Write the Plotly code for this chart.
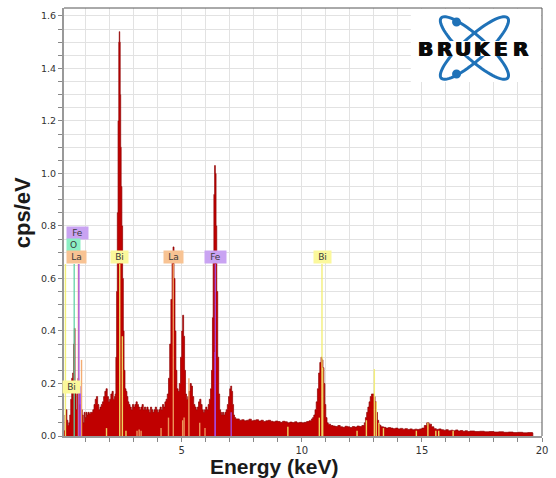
import math
import plotly.graph_objects as go

# ---------------- spectrum data ----------------
energy_kev = [
    # low-energy cluster (Bi N, O K, Fe L, La M)
    0.10, 0.14, 0.18, 0.22, 0.26, 0.30, 0.34, 0.38, 0.42, 0.46,
    0.50, 0.53, 0.56, 0.60, 0.64, 0.68, 0.71, 0.74, 0.78, 0.82,
    0.86, 0.90, 0.94, 0.98, 1.02, 1.06, 1.10, 1.15, 1.20,
    # 1.25 - 2.20
    1.25, 1.30, 1.35, 1.40, 1.45, 1.50, 1.55, 1.60, 1.65, 1.70,
    1.75, 1.80, 1.85, 1.90, 1.95, 2.00, 2.05, 2.10, 2.15, 2.20,
    # Bi M peak
    2.23, 2.26, 2.29, 2.32, 2.35, 2.38, 2.40, 2.42, 2.44, 2.46,
    2.48, 2.51, 2.54, 2.57, 2.60, 2.64, 2.68, 2.72,
    # 2.76 - 4.35
    2.76, 2.80, 2.85, 2.90, 2.95, 3.00, 3.05, 3.10, 3.15, 3.20,
    3.25, 3.30, 3.35, 3.40, 3.45, 3.50, 3.55, 3.60, 3.65, 3.70,
    3.75, 3.80, 3.85, 3.90, 3.95, 4.00, 4.05, 4.10, 4.15, 4.20,
    4.25, 4.30, 4.35,
    # La L peaks
    4.40, 4.45, 4.50, 4.55, 4.60, 4.64, 4.68, 4.72, 4.76, 4.80,
    4.85, 4.90, 4.95, 5.00, 5.04, 5.08, 5.12, 5.16, 5.20, 5.25,
    5.30, 5.35, 5.40, 5.45, 5.50, 5.55, 5.60, 5.65, 5.70, 5.75,
    5.80, 5.85, 5.90, 5.95, 6.00, 6.05, 6.10, 6.15, 6.20,
    # Fe K peaks
    6.24, 6.28, 6.31, 6.34, 6.37, 6.40, 6.43, 6.46, 6.50, 6.54,
    6.58, 6.62, 6.66, 6.70, 6.75, 6.80, 6.85, 6.90, 6.95, 7.00,
    7.04, 7.08, 7.12, 7.16, 7.20, 7.25,
    # 7.3 - 10.4
    7.3, 7.4, 7.5, 7.6, 7.7, 7.8, 7.9, 8.0, 8.1, 8.2,
    8.3, 8.4, 8.5, 8.6, 8.7, 8.8, 8.9, 9.0, 9.1, 9.2,
    9.3, 9.4, 9.5, 9.6, 9.7, 9.8, 9.9, 10.0, 10.1, 10.2,
    10.3, 10.4,
    # Bi L-alpha
    10.45, 10.50, 10.55, 10.60, 10.65, 10.70, 10.75, 10.80, 10.84, 10.88,
    10.92, 10.96, 11.00, 11.05, 11.10,
    # 11.2 - 12.65
    11.2, 11.3, 11.4, 11.5, 11.6, 11.7, 11.8, 11.9, 12.0, 12.1,
    12.2, 12.3, 12.4, 12.5, 12.6, 12.65,
    # Bi L-beta
    12.70, 12.75, 12.80, 12.85, 12.90, 12.95, 13.00, 13.05, 13.10, 13.15,
    13.20, 13.25,
    # tail
    13.3, 13.4, 13.5, 13.6, 13.7, 13.8, 13.9, 14.0, 14.1, 14.2,
    14.3, 14.4, 14.5, 14.6, 14.7, 14.8, 14.9, 15.0, 15.1, 15.2,
    15.3, 15.4, 15.5, 15.6, 15.7, 15.8, 15.9, 16.0, 16.1, 16.2,
    16.3, 16.4, 16.5, 16.6, 16.7, 16.8, 16.9, 17.0,
    17.2, 17.4, 17.6, 17.8, 18.0, 18.2, 18.4, 18.6, 18.8, 19.0,
    19.2, 19.4, 19.6, 19.62,
]
cps_per_ev = [
    0.02, 0.08, 0.10, 0.06, 0.04, 0.05, 0.08, 0.14, 0.22, 0.24,
    0.35, 0.41, 0.20, 0.10, 0.16, 0.22, 0.20, 0.12, 0.06, 0.10,
    0.08, 0.05, 0.09, 0.07, 0.09, 0.08, 0.09, 0.085, 0.09,
    0.09, 0.10, 0.12, 0.14, 0.15, 0.12, 0.10, 0.11, 0.12, 0.13,
    0.15, 0.17, 0.18, 0.15, 0.13, 0.14, 0.16, 0.17, 0.14, 0.15,
    0.16, 0.30, 0.55, 0.85, 1.20, 1.50, 1.54, 1.50, 1.30, 1.10,
    0.95, 0.80, 0.60, 0.40, 0.25, 0.18, 0.17, 0.15,
    0.13, 0.12, 0.11, 0.10, 0.12, 0.11, 0.12, 0.13, 0.12, 0.11,
    0.10, 0.11, 0.12, 0.10, 0.11, 0.10, 0.11, 0.10, 0.09, 0.11,
    0.10, 0.09, 0.10, 0.11, 0.10, 0.09, 0.10, 0.11, 0.10, 0.12,
    0.11, 0.13, 0.14,
    0.16, 0.22, 0.35, 0.52, 0.68, 0.72, 0.60, 0.40, 0.25, 0.18,
    0.17, 0.20, 0.30, 0.40, 0.46, 0.38, 0.25, 0.16, 0.14, 0.15,
    0.17, 0.20, 0.19, 0.15, 0.12, 0.11, 0.10, 0.11, 0.13, 0.14,
    0.12, 0.10, 0.09, 0.10, 0.11, 0.10, 0.12, 0.14, 0.18,
    0.25, 0.45, 0.70, 0.92, 1.03, 1.00, 0.80, 0.55, 0.30, 0.16,
    0.10, 0.09, 0.08, 0.09, 0.08, 0.09, 0.10, 0.12, 0.15, 0.18,
    0.19, 0.17, 0.12, 0.08, 0.07, 0.065,
    0.065, 0.060, 0.062, 0.058, 0.060, 0.064, 0.058, 0.060, 0.062, 0.057,
    0.060, 0.055, 0.058, 0.060, 0.056, 0.054, 0.057, 0.055, 0.052, 0.056,
    0.054, 0.050, 0.053, 0.051, 0.054, 0.050, 0.052, 0.050, 0.052, 0.055,
    0.058, 0.065,
    0.07, 0.08, 0.10, 0.13, 0.18, 0.24, 0.28, 0.30, 0.29, 0.26,
    0.20, 0.12, 0.07, 0.05, 0.045,
    0.040, 0.038, 0.036, 0.040, 0.035, 0.033, 0.037, 0.035, 0.032, 0.036,
    0.034, 0.038, 0.036, 0.040, 0.050, 0.070,
    0.09, 0.11, 0.13, 0.15, 0.16, 0.16, 0.15, 0.13, 0.09, 0.06,
    0.045, 0.04,
    0.035, 0.033, 0.030, 0.032, 0.030, 0.028, 0.030, 0.027, 0.029, 0.026,
    0.028, 0.025, 0.027, 0.024, 0.026, 0.025, 0.027, 0.030, 0.040, 0.050,
    0.045, 0.035, 0.028, 0.025, 0.027, 0.024, 0.022, 0.024, 0.020, 0.022,
    0.020, 0.023, 0.019, 0.021, 0.018, 0.020, 0.017, 0.019,
    0.017, 0.018, 0.016, 0.017, 0.015, 0.016, 0.014, 0.015, 0.013, 0.014,
    0.012, 0.013, 0.012, 0.0,
]
assert len(energy_kev) == len(cps_per_ev), (len(energy_kev), len(cps_per_ev))

# ---------------- element marker lines ----------------
line_energy = [0.16, 0.525, 0.70, 0.72, 0.83, 0.78, 2.42, 2.53, 1.87, 2.68,
               3.14, 3.23, 3.31, 4.14, 4.65, 4.45, 5.04, 5.10, 5.30, 5.75,
               5.97, 6.40, 6.39, 7.06, 9.42, 10.73, 10.84, 10.87, 12.30, 12.69,
               13.02, 13.10, 13.21, 13.40, 14.77, 15.25, 15.58, 15.70, 16.30]
line_height = [0.655, 0.655, 0.655, 0.655, 0.29, 0.19, 0.655, 0.38, 0.03, 0.02,
               0.02, 0.025, 0.02, 0.03, 0.655, 0.07, 0.06, 0.07, 0.22, 0.05,
               0.03, 0.655, 0.32, 0.09, 0.035, 0.07, 0.655, 0.26, 0.02, 0.06,
               0.255, 0.13, 0.05, 0.03, 0.02, 0.05, 0.02, 0.02, 0.02]
line_element = ["Bi", "O", "La", "Fe", "La", "Fe", "Bi", "Bi", "Bi", "Bi",
                "La", "La", "La", "La", "La", "La", "La", "La", "La", "La",
                "La", "Fe", "Fe", "Fe", "Bi", "Bi", "Bi", "Bi", "Bi", "Bi",
                "Bi", "Bi", "Bi", "Bi", "Bi", "Bi", "Bi", "Bi", "Bi"]
assert len(line_energy) == len(line_height) == len(line_element)

# ---------------- element labels ----------------
label_text = ["Fe", "O", "La", "Bi", "La", "Fe", "Bi", "Bi"]
label_energy = [0.68, 0.49, 0.62, 2.43, 4.66, 6.41, 10.86, 0.41]
label_level = [0.773, 0.726, 0.68, 0.68, 0.68, 0.68, 0.68, 0.187]

# ---------------- styles ----------------
line_color = {"Bi": "#f3ee6c", "La": "#f2a463", "Fe": "#a54ef0", "O": "#5fd3a4"}
label_bg = {"Bi": "#fbf89c", "La": "#f8c393", "Fe": "#c9a3f2", "O": "#8cefc4"}
label_w = {"Bi": 15, "La": 17, "Fe": 19, "O": 11}

W, H = 556, 478
ML, MR, MT, MB = 64, 11, 8, 42
PW, PH = W - ML - MR, H - MT - MB


def px(xp, yp):
    """pixel position -> paper coordinates"""
    return (xp - ML) / PW, (H - MB - yp) / PH


fig = go.Figure()
fig.add_trace(go.Scatter(
    x=energy_kev, y=cps_per_ev, mode="lines", line_shape="hv",
    fill="tozeroy", fillcolor="#c00000",
    line=dict(color="#8e0000", width=0.7),
    hoverinfo="skip", showlegend=False,
))

for el in ["La", "Bi", "O", "Fe"]:
    xs, ys = [], []
    for e, h, l in zip(line_energy, line_height, line_element):
        if l == el:
            xs += [e, e, None]
            ys += [0, h, None]
    fig.add_trace(go.Scatter(
        x=xs, y=ys, mode="lines", opacity=0.9,
        line=dict(color=line_color[el], width=1.4),
        hoverinfo="skip", showlegend=False,
    ))

for t, e, lv in zip(label_text, label_energy, label_level):
    fig.add_annotation(
        x=e, y=lv, xref="x", yref="y", text=t, showarrow=False,
        xanchor="center", yanchor="middle",
        font=dict(family="DejaVu Sans", size=9, color="#3a3a3a"),
        bgcolor=label_bg[t], borderpad=1, width=label_w[t], height=10,
    )

# axis titles
fig.add_annotation(x=px(275, 0)[0], y=px(0, 466)[1], xref="paper", yref="paper",
                   xanchor="center", yanchor="middle",
                   text="<b>Energy (keV)</b>", showarrow=False,
                   font=dict(family="Liberation Sans", size=21, color="#1a1a1a"))
fig.add_annotation(x=px(22, 0)[0], y=px(0, 213)[1], xref="paper", yref="paper",
                   xanchor="center", yanchor="middle",
                   text="<b>cps/eV</b>", showarrow=False, textangle=-90,
                   font=dict(family="Liberation Sans", size=22, color="#1a1a1a"))

shapes = []
# logo background
x0, y0 = px(413, 82)
shapes.append(dict(type="rect", xref="paper", yref="paper", x0=x0, y0=y0,
                   x1=0.998, y1=0.998, fillcolor="white", line_width=0, layer="above"))
# logo orbits
cx, cy, a, b = 477, 48, 45, 11.5
for ang in (42, -42):
    th = math.radians(ang)
    pts = []
    for k in range(73):
        t = 2 * math.pi * k / 72
        xp = cx + a * math.cos(t) * math.cos(th) - b * math.sin(t) * math.sin(th)
        yp = cy + a * math.cos(t) * math.sin(th) + b * math.sin(t) * math.cos(th)
        pts.append(px(xp, yp))
    path = "M " + " L ".join(f"{p[0]:.5f},{p[1]:.5f}" for p in pts) + " Z"
    shapes.append(dict(type="path", xref="paper", yref="paper", path=path,
                       line=dict(color="#1f72b8", width=3), layer="above"))
for (dx, dy) in [(459, 22), (459, 74)]:
    ax0, ay0 = px(dx - 4.5, dy + 4.5)
    ax1, ay1 = px(dx + 4.5, dy - 4.5)
    shapes.append(dict(type="circle", xref="paper", yref="paper", x0=ax0, y0=ay0,
                       x1=ax1, y1=ay1, fillcolor="#1f72b8", line_width=0, layer="above"))
# white band behind the logo text
bx0, by0 = px(419, 56)
bx1, by1 = px(533, 41)
shapes.append(dict(type="rect", xref="paper", yref="paper", x0=bx0, y0=by0,
                   x1=bx1, y1=by1, fillcolor="white", line_width=0, layer="above"))
# top and right frame
shapes.append(dict(type="line", xref="paper", yref="paper", x0=0, x1=1, y0=1, y1=1,
                   line=dict(color="#555555", width=1), layer="above"))
shapes.append(dict(type="line", xref="paper", yref="paper", x0=1, x1=1, y0=0, y1=1,
                   line=dict(color="#555555", width=1), layer="above"))

for ch, xc in zip("BRUKER", [428, 447, 466, 485, 504, 523]):
    fx, fy = px(xc, 49)
    fig.add_annotation(x=fx, y=fy, xref="paper", yref="paper", text=f"<b>{ch}</b>",
                       xanchor="center", yanchor="middle", showarrow=False,
                       font=dict(family="DejaVu Sans", size=20, color="#0a0a0a",
                                 shadow="0.7px 0 0 #0a0a0a, -0.7px 0 0 #0a0a0a"))

grid = "#e2e2e2"
fig.update_layout(
    width=W, height=H, margin=dict(l=ML, r=MR, t=MT, b=MB),
    paper_bgcolor="white", plot_bgcolor="white", shapes=shapes,
    xaxis=dict(range=[0.1, 20], tick0=0, dtick=5, ticks="outside", ticklen=4,
               tickcolor="#888888", showgrid=True, gridcolor=grid, gridwidth=1,
               showline=True, linecolor="#999999", linewidth=2, zeroline=False,
               tickfont=dict(family="DejaVu Sans", size=10, color="#333333"),
               minor=dict(dtick=1, ticks="outside", ticklen=4, tickcolor="#888888",
                          showgrid=True, gridcolor=grid)),
    yaxis=dict(range=[0, 1.63], tick0=0, dtick=0.2, tickformat=".1f", ticks="outside",
               ticklen=4, tickcolor="#888888", showgrid=True, gridcolor=grid, gridwidth=1,
               showline=True, linecolor="#999999", linewidth=2, zeroline=False,
               tickfont=dict(family="DejaVu Sans", size=9.5, color="#333333"),
               minor=dict(dtick=0.05, ticks="outside", ticklen=4, tickcolor="#888888",
                          showgrid=True, gridcolor=grid)),
)

fig.write_html("out.html")
